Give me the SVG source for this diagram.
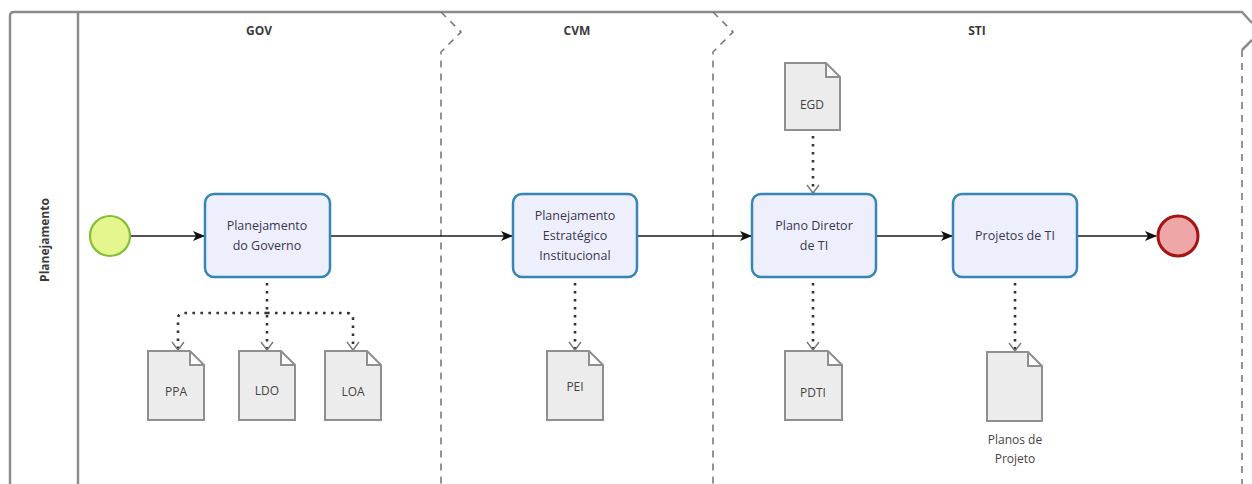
<svg xmlns="http://www.w3.org/2000/svg" width="1252" height="484" viewBox="0 0 1252 484">
<style>
.pool{fill:none;stroke:#8c8c8c;stroke-width:2.5}
.lane{fill:none;stroke:#7a7a7a;stroke-width:1.6;stroke-dasharray:7 6}
.hdr{font-family:"Open Sans","DejaVu Sans",sans-serif;font-size:12px;font-weight:bold;fill:#3a3a3a;text-anchor:middle}
.task rect{fill:#edf0fc;stroke:#3585b5;stroke-width:2.5}
.task text{font-family:"Open Sans","DejaVu Sans",sans-serif;font-size:12.5px;fill:#3c3650;text-anchor:middle}
.doc path{fill:#ececec;stroke:#8f8f8f;stroke-width:2}
.doc text{font-family:"Open Sans","DejaVu Sans",sans-serif;font-size:12px;fill:#444;text-anchor:middle}
.seq{fill:none;stroke:#1a1a1a;stroke-width:1.6;marker-end:url(#arr)}
.assoc{fill:none;stroke:#333;stroke-width:2.6;stroke-dasharray:2.6 5.4;marker-end:url(#vee)}
</style>
<defs>
<marker id="arr" viewBox="0 0 12 10" refX="11" refY="5" markerWidth="12" markerHeight="10" markerUnits="userSpaceOnUse" orient="auto">
<path d="M0,0 L12,5 L0,10 L3,5 z" fill="#111"/>
</marker>
<marker id="vee" viewBox="0 0 10 14" refX="9" refY="7" markerWidth="10" markerHeight="14" markerUnits="userSpaceOnUse" orient="auto">
<path d="M1,1 L9,7 L1,13" fill="none" stroke="#777" stroke-width="1.4"/>
</marker>
</defs>
<rect width="1252" height="484" fill="#fff"/>
<g id="pool">
<path class="pool" d="M10,484 L10,16 Q10,12 14,12 L1242,12 L1252,23"/>
<line class="pool" x1="78" y1="12" x2="78" y2="484"/>
<path class="pool" d="M1252,40 L1242,50" stroke-width="2"/>
<text x="45" y="240" class="hdr" transform="rotate(-90 45 240)" dy="4">Planejamento</text>
</g>
<g id="lanes">
<path class="lane" d="M441,12 L461,32 L441,52 L441,484"/>
<path class="lane" d="M713,12 L733,32 L713,52 L713,484"/>
<path class="lane" d="M1242,50 L1242,484"/>
<text x="259" y="35" class="hdr">GOV</text>
<text x="577" y="35" class="hdr">CVM</text>
<text x="977" y="35" class="hdr">STI</text>
</g>
<g id="connectors">
<line class="seq" x1="131" y1="236" x2="204" y2="236"/>
<line class="seq" x1="331" y1="236" x2="512" y2="236"/>
<line class="seq" x1="638" y1="236" x2="751" y2="236"/>
<line class="seq" x1="877" y1="236" x2="952" y2="236"/>
<line class="seq" x1="1078" y1="236" x2="1156" y2="236"/>
<path class="assoc" d="M267,283 L267,350"/>
<path class="assoc" d="M267,313 L184,313 Q178,313 178,319 L178,350"/>
<path class="assoc" d="M267,313 L347,313 Q353,313 353,319 L353,350"/>
<path class="assoc" d="M575,283 L575,350"/>
<path class="assoc" d="M813,283 L813,350"/>
<path class="assoc" d="M813,136 L813,193"/>
<path class="assoc" d="M1015,283 L1015,351"/>
</g>
<g id="start">
<circle cx="110" cy="236" r="20" fill="#e6f68e" stroke="#82bf34" stroke-width="2.2"/>
</g>
<g id="task1" class="task">
<rect x="205" y="194" width="125" height="83" rx="9"/>
<text x="267" y="230">Planejamento</text>
<text x="267" y="250">do Governo</text>
</g>
<g id="task2" class="task">
<rect x="513" y="194" width="124" height="83" rx="9"/>
<text x="575" y="220">Planejamento</text>
<text x="575" y="240">Estratégico</text>
<text x="575" y="260">Institucional</text>
</g>
<g id="task3" class="task">
<rect x="752" y="194" width="124" height="83" rx="9"/>
<text x="814" y="230">Plano Diretor</text>
<text x="814" y="250">de TI</text>
</g>
<g id="task4" class="task">
<rect x="953" y="194" width="124" height="83" rx="9"/>
<text x="1015" y="240">Projetos de TI</text>
</g>
<g id="end">
<circle cx="1178" cy="236" r="20" fill="#eea6a6" stroke="#a51313" stroke-width="3"/>
</g>
<g id="doc-ppa" class="doc">
<path d="M148,351 L190,351 L204,365 L204,420 L148,420 Z M190,351 L190,365 L204,365"/>
<text x="176" y="396">PPA</text>
</g>
<g id="doc-ldo" class="doc">
<path d="M239,351 L281,351 L295,365 L295,420 L239,420 Z M281,351 L281,365 L295,365"/>
<text x="267" y="395">LDO</text>
</g>
<g id="doc-loa" class="doc">
<path d="M325,351 L367,351 L381,365 L381,420 L325,420 Z M367,351 L367,365 L381,365"/>
<text x="353" y="396">LOA</text>
</g>
<g id="doc-pei" class="doc">
<path d="M547,351 L589,351 L603,365 L603,420 L547,420 Z M589,351 L589,365 L603,365"/>
<text x="575" y="391">PEI</text>
</g>
<g id="doc-pdti" class="doc">
<path d="M785,351 L828,351 L842,365 L842,420 L785,420 Z M828,351 L828,365 L842,365"/>
<text x="813" y="397">PDTI</text>
</g>
<g id="doc-egd" class="doc">
<path d="M785,63 L826,63 L840,77 L840,130 L785,130 Z M826,63 L826,77 L840,77"/>
<text x="812" y="109">EGD</text>
</g>
<g id="doc-planos" class="doc">
<path d="M987,352 L1028,352 L1042,366 L1042,421 L987,421 Z M1028,352 L1028,366 L1042,366"/>
<text x="1015" y="444">Planos de</text>
<text x="1015" y="463">Projeto</text>
</g>
</svg>
